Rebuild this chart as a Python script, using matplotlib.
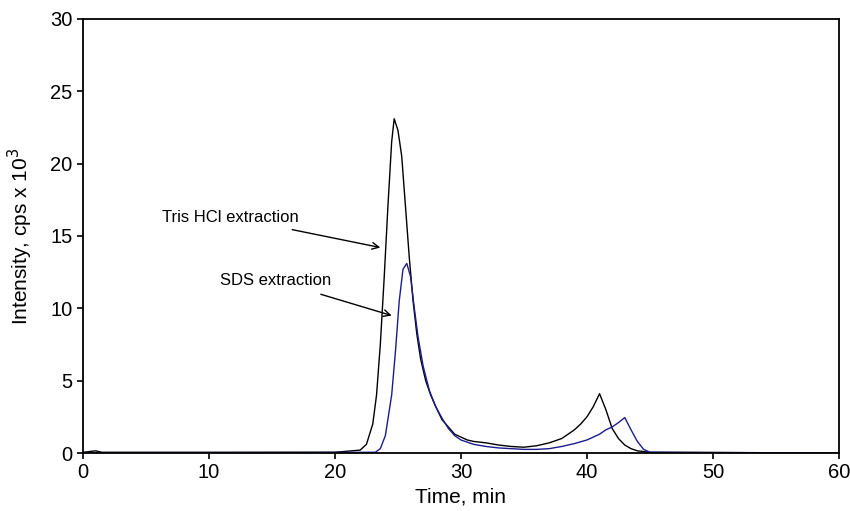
import matplotlib.pyplot as plt

plt.rcParams['font.family'] = ['Liberation Sans', 'DejaVu Sans']

# Tris HCl extraction (black trace)
tris_time = [0, 1, 1.5, 20, 22, 22.5, 23, 23.3, 23.6, 23.9, 24.2, 24.5, 24.7, 25.0,
             25.3, 25.6, 25.9, 26.2, 26.5, 26.8, 27.2, 27.6, 28, 28.5, 29, 29.5, 30,
             30.5, 31, 32, 33, 34, 35, 36, 37, 38, 38.5, 39, 39.5, 40, 40.5, 41,
             41.5, 42, 42.5, 43, 43.5, 44, 45, 60]
tris_int = [0.05, 0.15, 0.05, 0.05, 0.2, 0.6, 2.0, 4.0, 7.5, 12, 17, 21.5, 23.1, 22.3,
            20.5, 17, 13.5, 10.5, 8.2, 6.5, 5.0, 4.0, 3.2, 2.3, 1.8, 1.3, 1.1,
            0.9, 0.8, 0.7, 0.55, 0.45, 0.4, 0.5, 0.7, 1.0, 1.3, 1.6, 2.0, 2.5, 3.2, 4.1,
            3.0, 1.7, 1.0, 0.55, 0.3, 0.15, 0.05, 0.0]

# SDS extraction (blue trace)
sds_time = [0, 23.2, 23.6, 24, 24.5, 24.8, 25.1, 25.4, 25.7, 26.0, 26.3, 26.6, 27, 27.5,
            28, 28.5, 29, 29.5, 30, 31, 32, 33, 34, 35, 36, 37, 38, 39, 40, 40.5, 41,
            41.5, 42, 42.5, 43, 43.5, 44, 44.5, 45, 60]
sds_int = [0, 0.05, 0.3, 1.2, 4, 7, 10.5, 12.7, 13.1, 12.2, 10, 8, 6, 4.3,
           3.2, 2.4, 1.7, 1.2, 0.9, 0.6, 0.45, 0.35, 0.3, 0.25, 0.25, 0.3, 0.45, 0.65, 0.9, 1.1, 1.3,
           1.6, 1.8, 2.1, 2.45, 1.6, 0.8, 0.25, 0.05, 0]

fig = plt.figure(figsize=(8.5, 5.11), dpi=100)
ax = fig.add_axes([0.0976, 0.1135, 0.8894, 0.8495])

ax.plot(tris_time, tris_int, color='black', lw=1.0)
ax.plot(sds_time, sds_int, color='#1c1c8f', lw=1.0)

ax.set_xlim(0, 60)
ax.set_ylim(0, 30)
ax.set_xticks(range(0, 61, 10))
ax.set_yticks(range(0, 31, 5))
ax.tick_params(direction='out', length=4, width=1.2, labelsize=14.5)
for s in ax.spines.values():
    s.set_linewidth(1.3)

ax.set_xlabel('Time, min', fontsize=15)
ax.set_ylabel('Intensity, cps x 10$^3$', fontsize=15)
ax.xaxis.set_label_coords(0.5, -0.08)
ax.yaxis.set_label_coords(-0.063, 0.5)

ax.annotate('Tris HCl extraction', xy=(23.6, 14.2), xytext=(6.3, 16.3),
            fontsize=12, va='center', ha='left',
            arrowprops=dict(arrowstyle='->', color='black', lw=1.0,
                            shrinkA=8, shrinkB=0, mutation_scale=12))
ax.annotate('SDS extraction', xy=(24.5, 9.5), xytext=(10.9, 11.9),
            fontsize=12, va='center', ha='left',
            arrowprops=dict(arrowstyle='->', color='black', lw=1.0,
                            shrinkA=8, shrinkB=0, mutation_scale=12))

fig.savefig('out.png', dpi=100)
